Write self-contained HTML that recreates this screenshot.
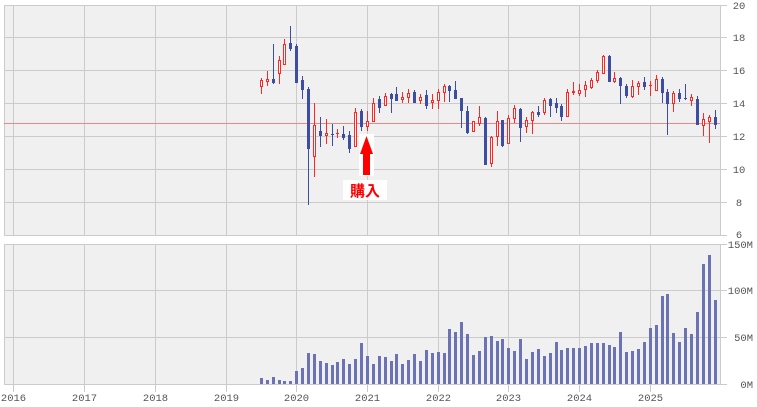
<!DOCTYPE html>
<html>
<head>
<meta charset="utf-8">
<style>
html,body{margin:0;padding:0;background:#fff;}
svg{display:block;}
text{font-family:"Liberation Mono","DejaVu Sans Mono",monospace;font-size:10.5px;fill:#555;}
</style>
</head>
<body>
<svg width="757" height="407" viewBox="0 0 757 407" xmlns="http://www.w3.org/2000/svg" shape-rendering="crispEdges">
<rect x="4" y="5" width="716" height="230" fill="#f0f0f0"/>
<rect x="4" y="244" width="716" height="140" fill="#f0f0f0"/>
<g fill="#cbcbcb">
<rect x="13" y="5" width="1" height="230"/><rect x="84" y="5" width="1" height="230"/><rect x="155" y="5" width="1" height="230"/><rect x="226" y="5" width="1" height="230"/><rect x="296" y="5" width="1" height="230"/><rect x="367" y="5" width="1" height="230"/><rect x="438" y="5" width="1" height="230"/><rect x="508" y="5" width="1" height="230"/><rect x="579" y="5" width="1" height="230"/><rect x="650" y="5" width="1" height="230"/>
<rect x="13" y="244" width="1" height="148"/><rect x="84" y="244" width="1" height="148"/><rect x="155" y="244" width="1" height="148"/><rect x="226" y="244" width="1" height="148"/><rect x="296" y="244" width="1" height="148"/><rect x="367" y="244" width="1" height="148"/><rect x="438" y="244" width="1" height="148"/><rect x="508" y="244" width="1" height="148"/><rect x="579" y="244" width="1" height="148"/><rect x="650" y="244" width="1" height="148"/>
<rect x="4" y="5" width="723" height="1"/><rect x="4" y="37" width="723" height="1"/><rect x="4" y="70" width="723" height="1"/><rect x="4" y="103" width="723" height="1"/><rect x="4" y="136" width="723" height="1"/><rect x="4" y="169" width="723" height="1"/><rect x="4" y="202" width="723" height="1"/><rect x="4" y="235" width="723" height="1"/>
<rect x="4" y="244" width="723" height="1"/><rect x="4" y="290" width="723" height="1"/><rect x="4" y="337" width="723" height="1"/>
<rect x="4" y="5" width="1" height="231"/><rect x="720" y="5" width="1" height="231"/>
<rect x="4" y="244" width="1" height="141"/><rect x="720" y="244" width="1" height="141"/>
</g>
<rect x="4" y="123" width="716" height="1" fill="#f48585"/>

<g fill="#6b73b4">
<rect x="260" y="378" width="3" height="6"/><rect x="266" y="380" width="3" height="4"/><rect x="272" y="377" width="3" height="7"/><rect x="278" y="380" width="3" height="4"/><rect x="283" y="381" width="3" height="3"/><rect x="289" y="381" width="3" height="3"/><rect x="295" y="371" width="3" height="13"/><rect x="301" y="368" width="3" height="16"/><rect x="307" y="353" width="3" height="31"/><rect x="313" y="354" width="3" height="30"/>
<rect x="319" y="361" width="3" height="23"/><rect x="325" y="363" width="3" height="21"/><rect x="331" y="365" width="3" height="19"/><rect x="336" y="362" width="3" height="22"/><rect x="342" y="359" width="3" height="25"/><rect x="348" y="364" width="3" height="20"/><rect x="354" y="359" width="3" height="25"/><rect x="360" y="343" width="3" height="41"/><rect x="366" y="356" width="3" height="28"/><rect x="372" y="364" width="3" height="20"/>
<rect x="378" y="356" width="3" height="28"/><rect x="384" y="357" width="3" height="27"/><rect x="390" y="361" width="3" height="23"/><rect x="395" y="354" width="3" height="30"/><rect x="401" y="364" width="3" height="20"/><rect x="407" y="360" width="3" height="24"/><rect x="413" y="354" width="3" height="30"/><rect x="419" y="361" width="3" height="23"/><rect x="425" y="350" width="3" height="34"/><rect x="431" y="353" width="3" height="31"/>
<rect x="437" y="352" width="3" height="32"/><rect x="443" y="353" width="3" height="31"/><rect x="448" y="329" width="3" height="55"/><rect x="454" y="332" width="3" height="52"/><rect x="460" y="322" width="3" height="62"/><rect x="466" y="334" width="3" height="50"/><rect x="472" y="355" width="3" height="29"/><rect x="478" y="351" width="3" height="33"/><rect x="484" y="337" width="3" height="47"/><rect x="490" y="336" width="3" height="48"/>
<rect x="496" y="341" width="3" height="43"/><rect x="501" y="339" width="3" height="45"/><rect x="507" y="348" width="3" height="36"/><rect x="513" y="351" width="3" height="33"/><rect x="519" y="339" width="3" height="45"/><rect x="525" y="359" width="3" height="25"/><rect x="531" y="352" width="3" height="32"/><rect x="537" y="349" width="3" height="35"/><rect x="543" y="356" width="3" height="28"/><rect x="549" y="353" width="3" height="31"/>
<rect x="555" y="342" width="3" height="42"/><rect x="560" y="350" width="3" height="34"/><rect x="566" y="348" width="3" height="36"/><rect x="572" y="348" width="3" height="36"/><rect x="578" y="348" width="3" height="36"/><rect x="584" y="346" width="3" height="38"/><rect x="590" y="343" width="3" height="41"/><rect x="596" y="343" width="3" height="41"/><rect x="602" y="343" width="3" height="41"/><rect x="608" y="345" width="3" height="39"/>
<rect x="613" y="347" width="3" height="37"/><rect x="619" y="332" width="3" height="52"/><rect x="625" y="352" width="3" height="32"/><rect x="631" y="351" width="3" height="33"/><rect x="637" y="349" width="3" height="35"/><rect x="643" y="342" width="3" height="42"/><rect x="649" y="328" width="3" height="56"/><rect x="655" y="325" width="3" height="59"/><rect x="661" y="296" width="3" height="88"/><rect x="666" y="294" width="3" height="90"/>
<rect x="672" y="333" width="3" height="51"/><rect x="678" y="342" width="3" height="42"/><rect x="684" y="328" width="3" height="56"/><rect x="690" y="334" width="3" height="50"/><rect x="696" y="312" width="3" height="72"/><rect x="702" y="264" width="3" height="120"/><rect x="708" y="255" width="3" height="129"/><rect x="714" y="300" width="3" height="84"/>
</g>
<rect x="4" y="384" width="723" height="1" fill="#cbcbcb"/>

<g fill="#3d4da2">
<rect x="273" y="44" width="1" height="40"/><rect x="272" y="79" width="3" height="4"/>
<rect x="290" y="26" width="1" height="25"/><rect x="289" y="43" width="3" height="6"/>
<rect x="296" y="44" width="1" height="39"/><rect x="295" y="46" width="3" height="37"/>
<rect x="302" y="76" width="1" height="23"/><rect x="301" y="80" width="3" height="10"/>
<rect x="308" y="87" width="1" height="118"/><rect x="307" y="89" width="3" height="60"/>
<rect x="320" y="117" width="1" height="30"/><rect x="319" y="131" width="3" height="5"/>
<rect x="332" y="124" width="1" height="22"/><rect x="331" y="134" width="3" height="1"/>
<rect x="343" y="126" width="1" height="14"/><rect x="342" y="134" width="3" height="4"/>
<rect x="349" y="131" width="1" height="22"/><rect x="348" y="135" width="3" height="14"/>
<rect x="361" y="109" width="1" height="22"/><rect x="360" y="111" width="3" height="16"/>
<rect x="379" y="96" width="1" height="17"/><rect x="378" y="99" width="3" height="9"/>
<rect x="391" y="93" width="1" height="20"/><rect x="390" y="94" width="3" height="5"/>
<rect x="396" y="87" width="1" height="14"/><rect x="395" y="94" width="3" height="7"/>
<rect x="414" y="90" width="1" height="13"/><rect x="413" y="92" width="3" height="11"/>
<rect x="426" y="90" width="1" height="19"/><rect x="425" y="95" width="3" height="11"/>
<rect x="449" y="85" width="1" height="17"/><rect x="448" y="86" width="3" height="5"/>
<rect x="455" y="81" width="1" height="18"/><rect x="454" y="90" width="3" height="9"/>
<rect x="461" y="98" width="1" height="30"/><rect x="460" y="98" width="3" height="13"/>
<rect x="467" y="106" width="1" height="28"/><rect x="466" y="111" width="3" height="22"/>
<rect x="485" y="117" width="1" height="48"/><rect x="484" y="118" width="3" height="47"/>
<rect x="502" y="120" width="1" height="27"/><rect x="501" y="120" width="3" height="26"/>
<rect x="520" y="108" width="1" height="34"/><rect x="519" y="109" width="3" height="19"/>
<rect x="538" y="106" width="1" height="11"/><rect x="537" y="112" width="3" height="3"/>
<rect x="550" y="98" width="1" height="19"/><rect x="549" y="99" width="3" height="7"/>
<rect x="556" y="98" width="1" height="15"/><rect x="555" y="103" width="3" height="5"/>
<rect x="561" y="104" width="1" height="17"/><rect x="560" y="106" width="3" height="11"/>
<rect x="609" y="55" width="1" height="27"/><rect x="608" y="56" width="3" height="26"/>
<rect x="620" y="77" width="1" height="27"/><rect x="619" y="78" width="3" height="8"/>
<rect x="626" y="84" width="1" height="14"/><rect x="625" y="86" width="3" height="10"/>
<rect x="644" y="77" width="1" height="13"/><rect x="643" y="82" width="3" height="5"/>
<rect x="662" y="77" width="1" height="26"/><rect x="661" y="79" width="3" height="14"/>
<rect x="667" y="89" width="1" height="46"/><rect x="666" y="92" width="3" height="12"/>
<rect x="679" y="89" width="1" height="13"/><rect x="678" y="93" width="3" height="6"/>
<rect x="685" y="84" width="1" height="16"/><rect x="684" y="98" width="3" height="1"/>
<rect x="697" y="96" width="1" height="29"/><rect x="696" y="99" width="3" height="26"/>
<rect x="715" y="110" width="1" height="19"/><rect x="714" y="117" width="3" height="8"/>
</g>

<g fill="#ff2626">
<rect x="261" y="78" width="1" height="16"/><rect x="260" y="80" width="3" height="7"/>
<rect x="267" y="71" width="1" height="15"/><rect x="266" y="79" width="3" height="3"/>
<rect x="279" y="56" width="1" height="28"/><rect x="278" y="60" width="3" height="14"/>
<rect x="284" y="39" width="1" height="26"/><rect x="283" y="44" width="3" height="21"/>
<rect x="314" y="103" width="1" height="74"/><rect x="313" y="125" width="3" height="32"/>
<rect x="326" y="119" width="1" height="25"/><rect x="325" y="133" width="3" height="3"/>
<rect x="337" y="129" width="1" height="9"/><rect x="336" y="133" width="3" height="1"/>
<rect x="355" y="108" width="1" height="39"/><rect x="354" y="112" width="3" height="35"/>
<rect x="367" y="111" width="1" height="20"/><rect x="366" y="121" width="3" height="6"/>
<rect x="373" y="98" width="1" height="24"/><rect x="372" y="103" width="3" height="19"/>
<rect x="385" y="93" width="1" height="13"/><rect x="384" y="96" width="3" height="10"/>
<rect x="402" y="92" width="1" height="11"/><rect x="401" y="97" width="3" height="3"/>
<rect x="408" y="89" width="1" height="14"/><rect x="407" y="93" width="3" height="5"/>
<rect x="420" y="94" width="1" height="10"/><rect x="419" y="97" width="3" height="4"/>
<rect x="432" y="94" width="1" height="15"/><rect x="431" y="100" width="3" height="3"/>
<rect x="438" y="89" width="1" height="20"/><rect x="437" y="92" width="3" height="9"/>
<rect x="444" y="84" width="1" height="18"/><rect x="443" y="86" width="3" height="7"/>
<rect x="473" y="121" width="1" height="11"/><rect x="472" y="121" width="3" height="11"/>
<rect x="479" y="106" width="1" height="20"/><rect x="478" y="117" width="3" height="7"/>
<rect x="491" y="136" width="1" height="31"/><rect x="490" y="137" width="3" height="27"/>
<rect x="497" y="111" width="1" height="35"/><rect x="496" y="121" width="3" height="16"/>
<rect x="508" y="115" width="1" height="29"/><rect x="507" y="118" width="3" height="26"/>
<rect x="514" y="105" width="1" height="18"/><rect x="513" y="108" width="3" height="11"/>
<rect x="526" y="117" width="1" height="16"/><rect x="525" y="120" width="3" height="7"/>
<rect x="532" y="111" width="1" height="23"/><rect x="531" y="112" width="3" height="9"/>
<rect x="544" y="98" width="1" height="17"/><rect x="543" y="100" width="3" height="13"/>
<rect x="567" y="89" width="1" height="28"/><rect x="566" y="92" width="3" height="25"/>
<rect x="573" y="82" width="1" height="13"/><rect x="572" y="91" width="3" height="2"/>
<rect x="579" y="84" width="1" height="12"/><rect x="578" y="90" width="3" height="4"/>
<rect x="585" y="81" width="1" height="16"/><rect x="584" y="85" width="3" height="5"/>
<rect x="591" y="78" width="1" height="11"/><rect x="590" y="80" width="3" height="8"/>
<rect x="597" y="70" width="1" height="13"/><rect x="596" y="72" width="3" height="9"/>
<rect x="603" y="55" width="1" height="19"/><rect x="602" y="56" width="3" height="18"/>
<rect x="614" y="72" width="1" height="11"/><rect x="613" y="78" width="3" height="4"/>
<rect x="632" y="80" width="1" height="18"/><rect x="631" y="86" width="3" height="11"/>
<rect x="638" y="81" width="1" height="14"/><rect x="637" y="83" width="3" height="4"/>
<rect x="650" y="81" width="1" height="15"/><rect x="649" y="85" width="3" height="1"/>
<rect x="656" y="75" width="1" height="16"/><rect x="655" y="79" width="3" height="12"/>
<rect x="673" y="91" width="1" height="21"/><rect x="672" y="93" width="3" height="11"/>
<rect x="691" y="94" width="1" height="12"/><rect x="690" y="97" width="3" height="4"/>
<rect x="703" y="113" width="1" height="23"/><rect x="702" y="119" width="3" height="7"/>
<rect x="709" y="115" width="1" height="28"/><rect x="708" y="117" width="3" height="5"/>
</g>
<g fill="#ffffff">
<rect x="261" y="81" width="1" height="5"/><rect x="267" y="80" width="1" height="1"/><rect x="279" y="61" width="1" height="12"/><rect x="284" y="45" width="1" height="19"/>
<rect x="314" y="126" width="1" height="30"/><rect x="326" y="134" width="1" height="1"/><rect x="355" y="113" width="1" height="33"/><rect x="367" y="122" width="1" height="4"/>
<rect x="373" y="104" width="1" height="17"/><rect x="385" y="97" width="1" height="8"/><rect x="402" y="98" width="1" height="1"/><rect x="408" y="94" width="1" height="3"/>
<rect x="420" y="98" width="1" height="2"/><rect x="432" y="101" width="1" height="1"/><rect x="438" y="93" width="1" height="7"/><rect x="444" y="87" width="1" height="5"/>
<rect x="473" y="122" width="1" height="9"/><rect x="479" y="118" width="1" height="5"/><rect x="491" y="138" width="1" height="25"/><rect x="497" y="122" width="1" height="14"/>
<rect x="508" y="119" width="1" height="24"/><rect x="514" y="109" width="1" height="9"/><rect x="526" y="121" width="1" height="5"/><rect x="532" y="113" width="1" height="7"/>
<rect x="544" y="101" width="1" height="11"/><rect x="567" y="93" width="1" height="23"/><rect x="579" y="91" width="1" height="2"/><rect x="585" y="86" width="1" height="3"/>
<rect x="591" y="81" width="1" height="6"/><rect x="597" y="73" width="1" height="7"/><rect x="603" y="57" width="1" height="16"/><rect x="614" y="79" width="1" height="2"/>
<rect x="632" y="87" width="1" height="9"/><rect x="638" y="84" width="1" height="2"/><rect x="656" y="80" width="1" height="10"/><rect x="673" y="94" width="1" height="9"/>
<rect x="691" y="98" width="1" height="2"/><rect x="703" y="120" width="1" height="5"/><rect x="709" y="118" width="1" height="3"/>
</g>

<rect x="359" y="134" width="15" height="42" fill="#ffffff"/>
<polygon points="366.5,136 373,154 370,154 370,175 363,175 363,154 360,154" fill="#ff0000" shape-rendering="geometricPrecision"/>
<rect x="343" y="180" width="44" height="20" fill="#ffffff"/>
<text x="365" y="196" text-anchor="middle" style="font-family:'Liberation Sans','Noto Sans CJK JP',sans-serif;font-size:15px;font-weight:bold;fill:#ff0000;">購入</text>

<g text-anchor="middle">
<text x="739" y="9">20</text>
<text x="739" y="41">18</text>
<text x="739" y="74">16</text>
<text x="739" y="107">14</text>
<text x="739" y="140">12</text>
<text x="739" y="173">10</text>
<text x="739" y="206">8</text>
<text x="739" y="238">6</text>
</g>
<g text-anchor="end">
<text x="753" y="248">150M</text>
<text x="753" y="294">100M</text>
<text x="753" y="341">50M</text>
<text x="753" y="388">0M</text>
</g>
<g text-anchor="middle">
<text x="13.5" y="401">2016</text>
<text x="84.5" y="401">2017</text>
<text x="155.5" y="401">2018</text>
<text x="226.5" y="401">2019</text>
<text x="296.5" y="401">2020</text>
<text x="367.5" y="401">2021</text>
<text x="438.5" y="401">2022</text>
<text x="508.5" y="401">2023</text>
<text x="579.5" y="401">2024</text>
<text x="650.5" y="401">2025</text>
</g>
</svg>
</body>
</html>
